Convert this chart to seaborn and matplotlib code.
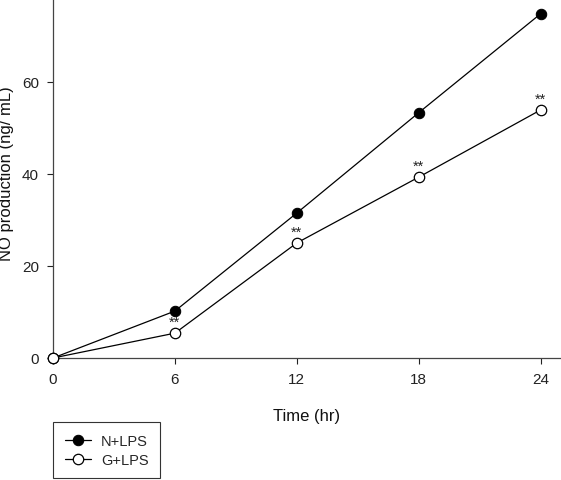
import pandas as pd
import seaborn as sns
import matplotlib
matplotlib.use("Agg")
import matplotlib.pyplot as plt

sns.set_theme(style="ticks")
plt.rcParams['font.family'] = ['Liberation Sans', 'DejaVu Sans']

# NO production over time
time_hr = [0, 6, 12, 18, 24]
n_lps = [0.0, 10.2, 31.5, 53.3, 74.8]
g_lps = [0.0, 5.4, 25.0, 39.3, 53.9]
star_times = [6, 12, 18, 24]
star_labels = ["**", "**", "**", "**"]

df = pd.DataFrame({"time": time_hr, "N+LPS": n_lps, "G+LPS": g_lps})

fig = plt.figure(figsize=(5.61, 4.81), dpi=100)
ax = fig.add_axes([53 / 561, 1 - 359 / 481, 1 - 53 / 561, 359 / 481])

sns.lineplot(data=df, x="time", y="N+LPS", ax=ax, color="black", lw=0.9,
             marker="o", markersize=7.5, markerfacecolor="black",
             markeredgecolor="black", label="N+LPS", clip_on=False, zorder=3)
sns.lineplot(data=df, x="time", y="G+LPS", ax=ax, color="black", lw=0.9,
             marker="o", markersize=7.5, markerfacecolor="white",
             markeredgecolor="black", markeredgewidth=0.9, label="G+LPS",
             clip_on=False, zorder=4)

for t, s in zip(star_times, star_labels):
    yv = df.loc[df["time"] == t, "G+LPS"].iloc[0]
    ax.annotate(s, (t, yv), xytext=(0, 3), textcoords="offset points",
                ha="center", va="bottom", fontsize=10.5, color="#222222")

ax.set_xlim(0, 25)
ax.set_ylim(0, 78)
ax.set_xticks([0, 6, 12, 18, 24])
ax.set_yticks([0, 20, 40, 60])
ax.tick_params(labelsize=11, colors="#222222", length=4, width=0.8, pad=6)
ax.set_xlabel("Time (hr)", fontsize=12, color="#111111", labelpad=16)
ax.set_ylabel("NO production (ng/ mL)", fontsize=12, color="#111111")
ax.yaxis.set_label_coords(-0.077, 0.515)
sns.despine(ax=ax)
for sp in ["left", "bottom"]:
    ax.spines[sp].set_color("#444444")
    ax.spines[sp].set_linewidth(0.9)

leg = ax.legend(loc="upper left", bbox_to_anchor=(53 / 561, 1 - 423 / 481),
                bbox_transform=fig.transFigure, fontsize=10.5, frameon=True,
                fancybox=False, framealpha=1, edgecolor="#333333",
                handlelength=1.8, borderpad=0.8, labelspacing=0.35,
                handletextpad=0.7, borderaxespad=0)
leg.get_frame().set_linewidth(0.8)

fig.savefig("out.png", dpi=100)
